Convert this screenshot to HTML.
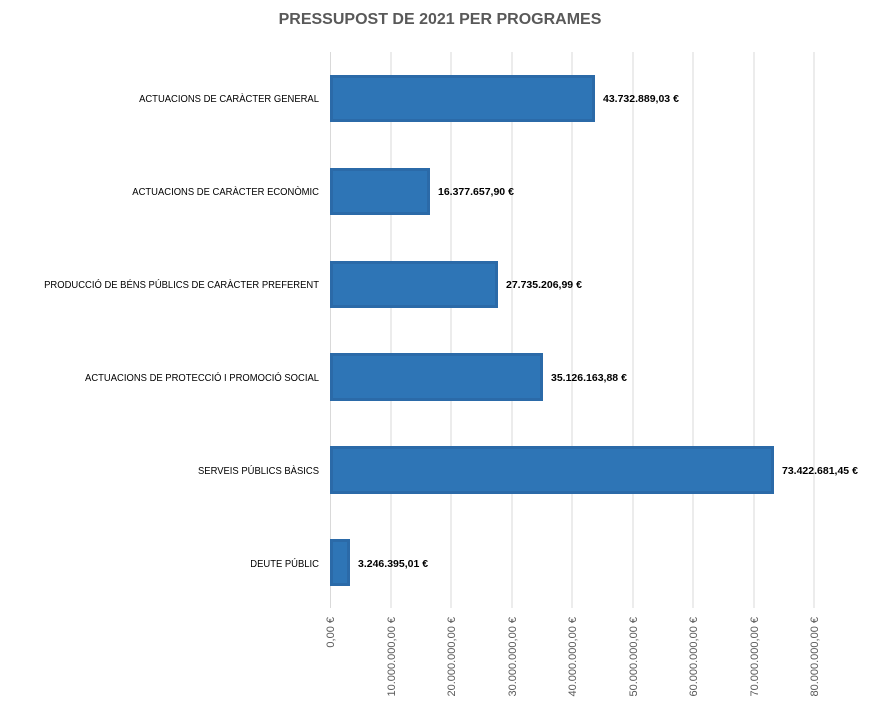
<!DOCTYPE html>
<html><head><meta charset="utf-8"><style>
body{margin:0;background:#fff;}
text{font-family:"Liberation Sans",sans-serif;}
</style></head><body>
<svg width="881" height="711" xmlns="http://www.w3.org/2000/svg">
<rect width="881" height="711" fill="#fff"/>
<text x="440" y="24" text-anchor="middle" font-size="16" font-weight="bold" fill="#595959">PRESSUPOST DE 2021 PER PROGRAMES</text>
<g stroke="#d9d9d9" stroke-width="1">
<line x1="330.5" y1="52" x2="330.5" y2="608"/>
<line x1="391" y1="52" x2="391" y2="608"/>
<line x1="451" y1="52" x2="451" y2="608"/>
<line x1="512" y1="52" x2="512" y2="608"/>
<line x1="572" y1="52" x2="572" y2="608"/>
<line x1="633" y1="52" x2="633" y2="608"/>
<line x1="693" y1="52" x2="693" y2="608"/>
<line x1="754" y1="52" x2="754" y2="608"/>
<line x1="814" y1="52" x2="814" y2="608"/>
</g>
<g fill="#2e75b6" stroke="#2b6aa8" stroke-width="3">
<rect x="331.5" y="76.5" width="262" height="44"/>
<rect x="331.5" y="169.5" width="97" height="44"/>
<rect x="331.5" y="262.5" width="165" height="44"/>
<rect x="331.5" y="354.5" width="210" height="45"/>
<rect x="331.5" y="447.5" width="441" height="45"/>
<rect x="331.5" y="540.5" width="17" height="44"/>
</g>
<g font-size="10" fill="#000" text-anchor="end" transform="translate(319,0) scale(0.945,1) translate(-319,0)">
<text x="319" y="102">ACTUACIONS DE CARÀCTER GENERAL</text>
<text x="319" y="195">ACTUACIONS DE CARÀCTER ECONÒMIC</text>
<text x="319" y="288">PRODUCCIÓ DE BÉNS PÚBLICS DE CARÀCTER PREFERENT</text>
<text x="319" y="381">ACTUACIONS DE PROTECCIÓ I PROMOCIÓ SOCIAL</text>
<text x="319" y="474">SERVEIS PÚBLICS BÀSICS</text>
<text x="319" y="567">DEUTE PÚBLIC</text>
</g>
<g font-size="10.5" font-weight="bold" fill="#000">
<text x="603" y="102">43.732.889,03 €</text>
<text x="438" y="195">16.377.657,90 €</text>
<text x="506" y="288">27.735.206,99 €</text>
<text x="551" y="381">35.126.163,88 €</text>
<text x="782" y="474">73.422.681,45 €</text>
<text x="358" y="567">3.246.395,01 €</text>
</g>
<g font-size="11" fill="#595959" text-anchor="end">
<text transform="translate(334,617) rotate(-90)">0,00 €</text>
<text transform="translate(395,617) rotate(-90)">10.000.000,00 €</text>
<text transform="translate(455,617) rotate(-90)">20.000.000,00 €</text>
<text transform="translate(516,617) rotate(-90)">30.000.000,00 €</text>
<text transform="translate(576,617) rotate(-90)">40.000.000,00 €</text>
<text transform="translate(637,617) rotate(-90)">50.000.000,00 €</text>
<text transform="translate(697,617) rotate(-90)">60.000.000,00 €</text>
<text transform="translate(758,617) rotate(-90)">70.000.000,00 €</text>
<text transform="translate(818,617) rotate(-90)">80.000.000,00 €</text>
</g>
</svg>
</body></html>
